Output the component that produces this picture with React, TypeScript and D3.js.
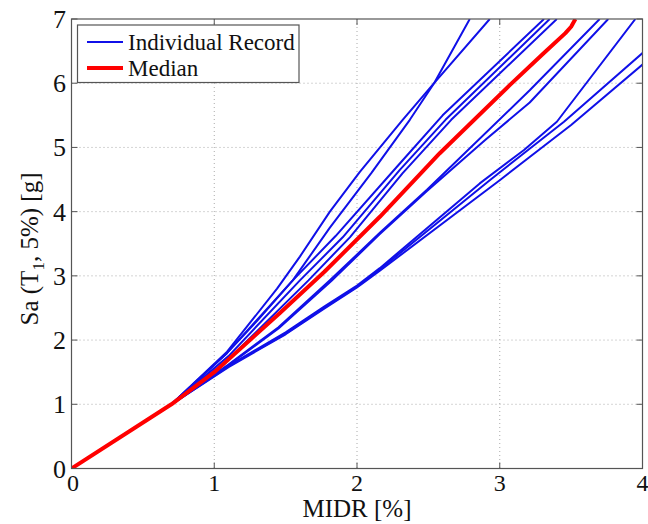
import React from "react";
import * as d3 from "d3";

type Pt = [number, number];

// x = MIDR [%], y = Sa(T1,5%) [g]
const recordA: Pt[] = [[0, 0], [0.7, 1.0], [1.09, 1.82], [1.44, 2.8], [1.6, 3.3], [1.81, 4.0], [2.02, 4.62], [2.32, 5.43], [2.54, 6.0], [2.93, 7.0]];
const recordB: Pt[] = [[0, 0], [0.7, 1.0], [1.09, 1.8], [1.3, 2.3], [1.55, 2.93], [1.81, 3.75], [2.1, 4.6], [2.37, 5.43], [2.54, 6.0], [2.79, 7.0]];
const recordC: Pt[] = [[0, 0], [0.7, 1.0], [1.09, 1.8], [1.55, 2.93], [1.85, 3.62], [2.3, 4.75], [2.6, 5.5], [3.31, 7.0]];
const recordD: Pt[] = [[0, 0], [0.7, 1.0], [1.1, 1.75], [1.6, 2.93], [1.9, 3.6], [2.3, 4.65], [2.62, 5.43], [3.35, 7.0]];
const recordE: Pt[] = [[0, 0], [0.7, 1.0], [1.1, 1.7], [1.66, 2.93], [1.95, 3.6], [2.32, 4.6], [2.66, 5.43], [3.4, 7.0]];
const recordF: Pt[] = [[0, 0], [0.7, 1.0], [1.1, 1.62], [1.45, 2.2], [1.81, 2.93], [2.16, 3.67], [2.49, 4.34], [3.21, 5.89], [3.7, 7.0]];
const recordG: Pt[] = [[0, 0], [0.7, 1.0], [1.1, 1.61], [1.45, 2.18], [1.82, 2.92], [2.16, 3.65], [2.49, 4.32], [2.9, 5.12], [3.21, 5.7], [3.76, 7.0]];
const recordH: Pt[] = [[0, 0], [0.7, 1.0], [1.1, 1.6], [1.5, 2.12], [1.77, 2.52], [2.0, 2.85], [2.16, 3.12], [2.86, 4.44], [3.17, 4.96], [3.4, 5.4], [3.95, 7.0]];
const recordI: Pt[] = [[0, 0], [0.7, 1.0], [1.1, 1.59], [1.5, 2.1], [1.77, 2.5], [2.0, 2.83], [2.16, 3.1], [2.93, 4.49], [3.45, 5.4], [4.0, 6.47]];
const recordJ: Pt[] = [[0, 0], [0.7, 1.0], [1.1, 1.58], [1.5, 2.09], [1.77, 2.49], [2.0, 2.82], [2.16, 3.08], [3.0, 4.49], [3.5, 5.35], [4.0, 6.29]];
const records: Pt[][] = [recordA, recordB, recordC, recordD, recordE, recordF, recordG, recordH, recordI, recordJ];

const median: Pt[] = [[0, 0], [0.7, 1.0], [1.0, 1.5], [1.46, 2.42], [1.77, 3.06], [2.16, 3.92], [2.58, 4.91], [3.07, 5.97], [3.3, 6.45], [3.46, 6.78], [3.5, 6.88], [3.53, 7.0]];

const xTicks = [0, 1, 2, 3, 4];
const yTicks = [0, 1, 2, 3, 4, 5, 6, 7];
const legendLabels = ["Individual Record", "Median"];

const W = 648, H = 524;
const L = 71.5, R = 642.5, T = 19, B = 468.5;

export default function App() {
  const x = d3.scaleLinear().domain([0, 4]).range([L, R]);
  const y = d3.scaleLinear().domain([0, 7]).range([B, T]);
  const line = d3.line<Pt>().x(d => x(d[0])).y(d => y(d[1]));
  const font = "'Liberation Serif', 'Times New Roman', serif";
  const axisCol = "#555";
  const tickLen = 6;
  return (
    <svg width={W} height={H} style={{ position: "absolute", left: 0, top: 0, background: "#fff" }} fontFamily={font}>
      <defs>
        <clipPath id="plot"><rect x={L} y={T} width={R - L} height={B - T} /></clipPath>
      </defs>
      <rect x={0} y={0} width={W} height={H} fill="#fff" />
      {/* grid */}
      {xTicks.slice(1, -1).map(t => (
        <line key={"gx" + t} x1={x(t)} x2={x(t)} y1={T} y2={B} stroke="#aaa" strokeWidth={1} strokeDasharray="1,3" />
      ))}
      {yTicks.slice(1, -1).map(t => (
        <line key={"gy" + t} x1={L} x2={R} y1={y(t)} y2={y(t)} stroke="#aaa" strokeWidth={1} strokeDasharray="1,3" />
      ))}
      {/* curves */}
      <g clipPath="url(#plot)">
        {records.map((r, i) => (
          <path key={i} d={line(r) || ""} fill="none" stroke="#1010e8" strokeWidth={2} strokeLinejoin="round" />
        ))}
        <path d={line(median) || ""} fill="none" stroke="#ff0000" strokeWidth={4} strokeLinejoin="round" />
      </g>
      {/* box */}
      <rect x={L} y={T} width={R - L} height={B - T} fill="none" stroke={axisCol} strokeWidth={1.2} />
      {/* ticks */}
      {xTicks.map(t => (
        <g key={"tx" + t}>
          <line x1={x(t)} x2={x(t)} y1={B} y2={B - tickLen} stroke={axisCol} />
          <line x1={x(t)} x2={x(t)} y1={T} y2={T + tickLen} stroke={axisCol} />
          <text x={x(t) + (t === 0 ? 1.5 : 0)} y={491} fontSize={24} textAnchor="middle" fill="#111">{t}</text>
        </g>
      ))}
      {yTicks.map(t => (
        <g key={"ty" + t}>
          <line x1={L} x2={L + tickLen} y1={y(t)} y2={y(t)} stroke={axisCol} />
          <line x1={R} x2={R - tickLen} y1={y(t)} y2={y(t)} stroke={axisCol} />
          <text x={66} y={y(t) + 9} fontSize={26} textAnchor="end" fill="#111">{t}</text>
        </g>
      ))}
      {/* axis labels */}
      <text x={357} y={517} fontSize={25} textAnchor="middle" fill="#111">MIDR [%]</text>
      <text transform={`translate(38,249) rotate(-90)`} fontSize={25} textAnchor="middle" fill="#111">
        Sa (T<tspan fontSize={17} dy={6}>1</tspan><tspan dy={-6}>, 5%) [g]</tspan>
      </text>
      {/* legend */}
      <rect x={77.5} y={25} width={221.5} height={57.5} fill="#fff" stroke={axisCol} strokeWidth={1.2} />
      <line x1={87} x2={123} y1={42} y2={42} stroke="#1010e8" strokeWidth={2} />
      <line x1={87} x2={123} y1={68} y2={68} stroke="#ff0000" strokeWidth={4} />
      <text x={128} y={50} fontSize={23} fill="#111">{legendLabels[0]}</text>
      <text x={128} y={76} fontSize={23} fill="#111">{legendLabels[1]}</text>
    </svg>
  );
}
